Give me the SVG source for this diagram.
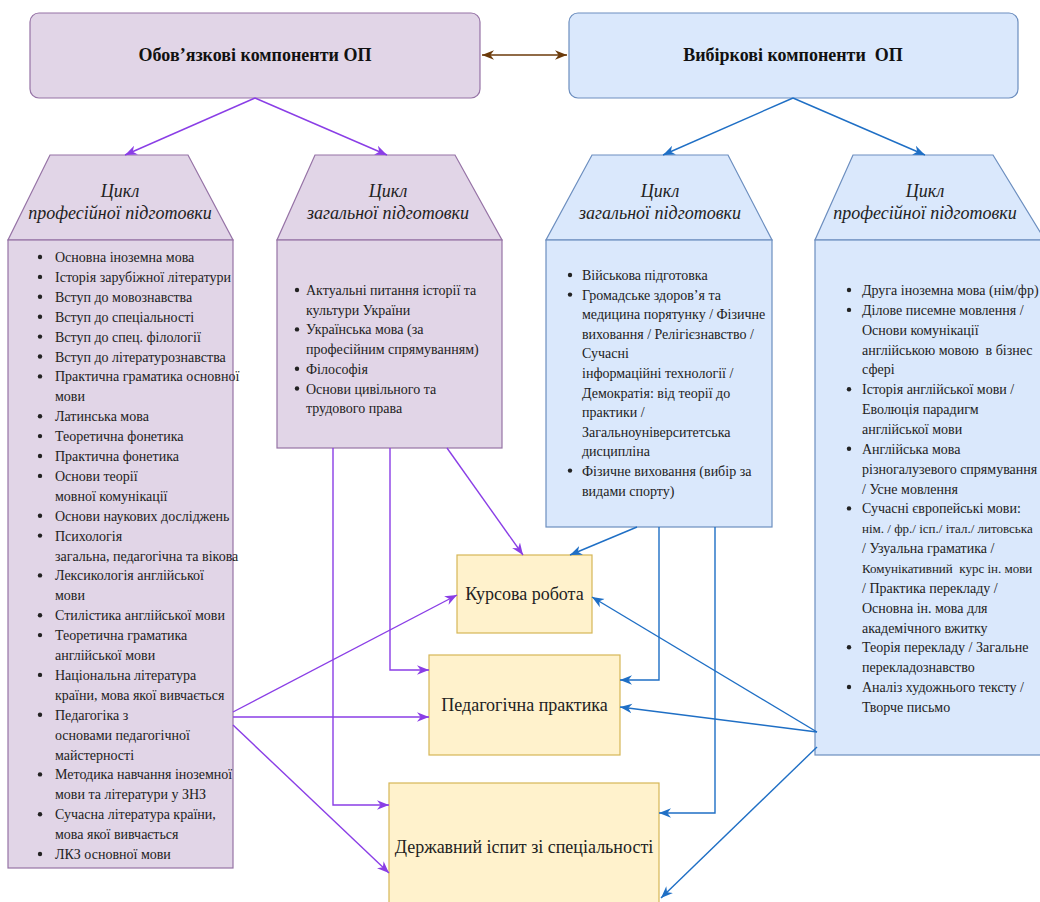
<svg xmlns="http://www.w3.org/2000/svg" width="1040" height="902" viewBox="0 0 1040 902">
<defs>
<style>
.pur{fill:#e1d5e7;stroke:#9673a6;stroke-width:1.2}
.blu{fill:#dae8fc;stroke:#6c8ebf;stroke-width:1.2}
.yel{fill:#fff2cc;stroke:#d6b656;stroke-width:1.2}
.title{font-family:"Liberation Serif","DejaVu Serif",serif;font-size:18px;font-weight:bold;fill:#111;text-anchor:middle}
.head{font-family:"Liberation Serif","DejaVu Serif",serif;font-size:18px;font-style:italic;fill:#222;text-anchor:middle}
.li{font-family:"Liberation Serif","DejaVu Serif",serif;font-size:14px;fill:#222}
.sm{font-size:13px}
.box{font-family:"Liberation Serif","DejaVu Serif",serif;font-size:18px;fill:#222;text-anchor:middle}
.pre{white-space:pre}
.cp{fill:none;stroke:#8a3ee6;stroke-width:1.4}
.cb{fill:none;stroke:#1f6fc5;stroke-width:1.4}
.cr{fill:none;stroke:#6b3a0a;stroke-width:1.4}
.bul{fill:#222}
</style>
<marker id="ap" viewBox="0 0 10 10" refX="10" refY="5" markerWidth="12" markerHeight="12" markerUnits="userSpaceOnUse" orient="auto-start-reverse"><path d="M0,1 L10,5 L0,9 L3,5 z" fill="#8a3ee6"/></marker>
<marker id="ab" viewBox="0 0 10 10" refX="10" refY="5" markerWidth="12" markerHeight="12" markerUnits="userSpaceOnUse" orient="auto-start-reverse"><path d="M0,1 L10,5 L0,9 L3,5 z" fill="#1f6fc5"/></marker>
<marker id="ar" viewBox="0 0 10 10" refX="10" refY="5" markerWidth="12" markerHeight="12" markerUnits="userSpaceOnUse" orient="auto-start-reverse"><path d="M0,1 L10,5 L0,9 L3,5 z" fill="#6b3a0a"/></marker>
</defs>
<rect width="1040" height="902" fill="#ffffff"/>

<g id="mandatory">
<rect class="pur" x="30" y="13" width="450" height="85" rx="9"/>
<text class="title" x="255" y="61">Обов’язкові компоненти ОП</text>
</g>

<g id="elective">
<rect class="blu" x="569" y="13" width="449" height="85" rx="9"/>
<text class="title pre" x="793" y="61">Вибіркові компоненти  ОП</text>
</g>

<g id="mand-prof">
<polygon class="pur" points="50,155 188,155 233,240 8,240"/>
<text class="head" x="120" y="197">Цикл</text>
<text class="head" x="120" y="219">професійної підготовки</text>
<rect class="pur" x="8" y="240" width="225" height="628"/>
<g class="bul">
<circle cx="40" cy="257" r="2.2"/><circle cx="40" cy="276.9" r="2.2"/><circle cx="40" cy="296.8" r="2.2"/><circle cx="40" cy="316.7" r="2.2"/><circle cx="40" cy="336.6" r="2.2"/><circle cx="40" cy="356.5" r="2.2"/><circle cx="40" cy="376.4" r="2.2"/><circle cx="40" cy="416.2" r="2.2"/><circle cx="40" cy="436.1" r="2.2"/><circle cx="40" cy="456" r="2.2"/><circle cx="40" cy="475.9" r="2.2"/><circle cx="40" cy="515.7" r="2.2"/><circle cx="40" cy="535.6" r="2.2"/><circle cx="40" cy="575.4" r="2.2"/><circle cx="40" cy="615.2" r="2.2"/><circle cx="40" cy="635.1" r="2.2"/><circle cx="40" cy="674.9" r="2.2"/><circle cx="40" cy="714.7" r="2.2"/><circle cx="40" cy="774.4" r="2.2"/><circle cx="40" cy="814.2" r="2.2"/><circle cx="40" cy="854" r="2.2"/>
</g>
<text class="li">
<tspan x="55" y="262">Основна іноземна мова</tspan>
<tspan x="55" y="281.9">Історія зарубіжної літератури</tspan>
<tspan x="55" y="301.8">Вступ до мовознавства</tspan>
<tspan x="55" y="321.7">Вступ до спеціальності</tspan>
<tspan x="55" y="341.6">Вступ до спец. філології</tspan>
<tspan x="55" y="361.5">Вступ до літературознавства</tspan>
<tspan x="55" y="381.4">Практична граматика основної</tspan>
<tspan x="55" y="401.3">мови</tspan>
<tspan x="55" y="421.2">Латинська мова</tspan>
<tspan x="55" y="441.1">Теоретична фонетика</tspan>
<tspan x="55" y="461">Практична фонетика</tspan>
<tspan x="55" y="480.9">Основи теорії</tspan>
<tspan x="55" y="500.8">мовної комунікації</tspan>
<tspan x="55" y="520.7">Основи наукових досліджень</tspan>
<tspan x="55" y="540.6">Психологія</tspan>
<tspan x="55" y="560.5">загальна, педагогічна та вікова</tspan>
<tspan x="55" y="580.4">Лексикологія англійської</tspan>
<tspan x="55" y="600.3">мови</tspan>
<tspan x="55" y="620.2">Стилістика англійської мови</tspan>
<tspan x="55" y="640.1">Теоретична граматика</tspan>
<tspan x="55" y="660">англійської мови</tspan>
<tspan x="55" y="679.9">Національна література</tspan>
<tspan x="55" y="699.8">країни, мова якої вивчається</tspan>
<tspan x="55" y="719.7">Педагогіка з</tspan>
<tspan x="55" y="739.6">основами педагогічної</tspan>
<tspan x="55" y="759.5">майстерності</tspan>
<tspan x="55" y="779.4">Методика навчання іноземної</tspan>
<tspan x="55" y="799.3">мови та літератури у ЗНЗ</tspan>
<tspan x="55" y="819.2">Сучасна література країни,</tspan>
<tspan x="55" y="839.1">мова якої вивчається</tspan>
<tspan x="55" y="859">ЛКЗ основної мови</tspan>
</text>
</g>

<g id="mand-gen">
<polygon class="pur" points="315,155 455,155 502,240 277,240"/>
<text class="head" x="388" y="197">Цикл</text>
<text class="head" x="388" y="219">загальної підготовки</text>
<rect class="pur" x="277" y="240" width="225" height="208"/>
<g class="bul">
<circle cx="297" cy="290" r="2.2"/><circle cx="297" cy="329.4" r="2.2"/><circle cx="297" cy="368.8" r="2.2"/><circle cx="297" cy="388.5" r="2.2"/>
</g>
<text class="li">
<tspan x="306" y="295">Актуальні питання історії та</tspan>
<tspan x="306" y="314.7">культури України</tspan>
<tspan x="306" y="334.4">Українська мова (за</tspan>
<tspan x="306" y="354.1">професійним спрямуванням)</tspan>
<tspan x="306" y="373.8">Філософія</tspan>
<tspan x="306" y="393.5">Основи цивільного та</tspan>
<tspan x="306" y="413.2">трудового права</tspan>
</text>
</g>

<g id="elec-gen">
<polygon class="blu" points="592,155 728,155 772,240 546,240"/>
<text class="head" x="660" y="197">Цикл</text>
<text class="head" x="660" y="219">загальної підготовки</text>
<rect class="blu" x="546" y="240" width="226" height="287"/>
<g class="bul">
<circle cx="570" cy="275" r="2.2"/><circle cx="570" cy="294.6" r="2.2"/><circle cx="570" cy="470.6" r="2.2"/>
</g>
<text class="li">
<tspan x="582" y="280">Військова підготовка</tspan>
<tspan x="582" y="299.6">Громадське здоров’я та</tspan>
<tspan x="582" y="319.2">медицина порятунку / Фізичне</tspan>
<tspan x="582" y="338.8">виховання / Релігієзнавство /</tspan>
<tspan x="582" y="358.4">Сучасні</tspan>
<tspan x="582" y="378">інформаційні технології /</tspan>
<tspan x="582" y="397.6">Демократія: від теорії до</tspan>
<tspan x="582" y="417.2">практики /</tspan>
<tspan x="582" y="436.8">Загальноуніверситетська</tspan>
<tspan x="582" y="456.4">дисципліна</tspan>
<tspan x="582" y="476">Фізичне виховання (вибір за</tspan>
<tspan x="582" y="495.6">видами спорту)</tspan>
</text>
</g>

<g id="elec-prof">
<polygon class="blu" points="853,155 993,155 1045,240 815,240"/>
<text class="head" x="925" y="197">Цикл</text>
<text class="head" x="925" y="219">професійної підготовки</text>
<rect class="blu" x="815" y="240" width="235" height="515"/>
<g class="bul">
<circle cx="849" cy="290" r="2.2"/><circle cx="849" cy="309.9" r="2.2"/><circle cx="849" cy="389.3" r="2.2"/><circle cx="849" cy="448.8" r="2.2"/><circle cx="849" cy="508.4" r="2.2"/><circle cx="849" cy="647.3" r="2.2"/><circle cx="849" cy="687" r="2.2"/>
</g>
<text class="li">
<tspan x="862" y="295">Друга іноземна мова (нім/фр)</tspan>
<tspan x="862" y="314.9">Ділове писемне мовлення /</tspan>
<tspan x="862" y="334.7">Основи комунікації</tspan>
<tspan class="pre" x="862" y="354.6">англійською мовою  в бізнес</tspan>
<tspan x="862" y="374.4">сфері</tspan>
<tspan x="862" y="394.3">Історія англійської мови /</tspan>
<tspan x="862" y="414.1">Еволюція парадигм</tspan>
<tspan x="862" y="434">англійської мови</tspan>
<tspan x="862" y="453.8">Англійська мова</tspan>
<tspan x="862" y="473.7">різногалузевого спрямування</tspan>
<tspan x="862" y="493.5">/ Усне мовлення</tspan>
<tspan x="862" y="513.4">Сучасні європейські мови:</tspan>
<tspan class="sm" x="862" y="533.2">нім. / фр./ ісп./ італ./ литовська</tspan>
<tspan x="862" y="553.1">/ Узуальна граматика /</tspan>
<tspan class="pre sm" x="862" y="572.9">Комунікативний  курс ін. мови</tspan>
<tspan x="862" y="592.8">/ Практика перекладу /</tspan>
<tspan x="862" y="612.6">Основна ін. мова для</tspan>
<tspan x="862" y="632.5">академічного вжитку</tspan>
<tspan x="862" y="652.3">Теорія перекладу / Загальне</tspan>
<tspan x="862" y="672.2">перекладознавство</tspan>
<tspan x="862" y="692">Аналіз художнього тексту /</tspan>
<tspan x="862" y="711.9">Творче письмо</tspan>
</text>
</g>

<g id="coursework">
<rect class="yel" x="457" y="555" width="135" height="78"/>
<text class="box" x="524.5" y="600">Курсова робота</text>
</g>

<g id="practice">
<rect class="yel" x="429" y="655" width="191" height="100"/>
<text class="box" x="524.5" y="711">Педагогічна практика</text>
</g>

<g id="exam">
<rect class="yel" x="389" y="783" width="270" height="140"/>
<text class="box" x="524" y="853">Державний іспит зі спеціальності</text>
</g>

<g id="connectors">
<path class="cr" d="M482,55 H567" marker-start="url(#ar)" marker-end="url(#ar)"/>
<path class="cp" d="M255,98 L125,155" marker-end="url(#ap)"/>
<path class="cp" d="M255,98 L387,155" marker-end="url(#ap)"/>
<path class="cp" d="M333,448 V805 H389" marker-end="url(#ap)"/>
<path class="cp" d="M390,448 V670 H429" marker-end="url(#ap)"/>
<path class="cp" d="M447,448 L523,555" marker-end="url(#ap)"/>
<path class="cp" d="M233,712 L457,595" marker-end="url(#ap)"/>
<path class="cp" d="M233,717 L429,717" marker-end="url(#ap)"/>
<path class="cp" d="M233,725 L389,873" marker-end="url(#ap)"/>
<path class="cb" d="M793,98 L663,155" marker-end="url(#ab)"/>
<path class="cb" d="M793,98 L925,155" marker-end="url(#ab)"/>
<path class="cb" d="M637,527 L570,555" marker-end="url(#ab)"/>
<path class="cb" d="M659,527 V680 H620" marker-end="url(#ab)"/>
<path class="cb" d="M715,527 V813 H659" marker-end="url(#ab)"/>
<path class="cb" d="M817,732 L592,597" marker-end="url(#ab)"/>
<path class="cb" d="M817,732 L620,707" marker-end="url(#ab)"/>
<path class="cb" d="M817,747 L661,898" marker-end="url(#ab)"/>
</g>
</svg>
